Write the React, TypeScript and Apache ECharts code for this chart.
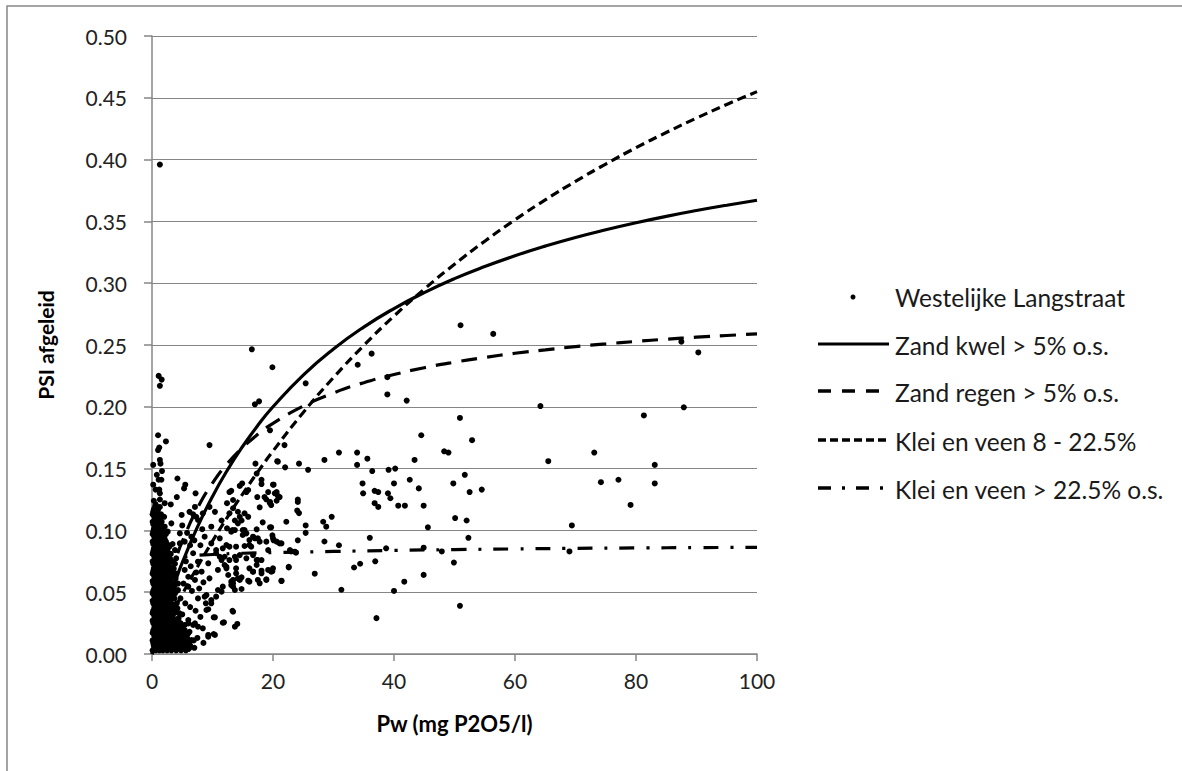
import React, { useEffect, useRef } from "react";
import * as echarts from "echarts";

// ---- Axis definitions ----
const xMin = 0;
const xMax = 100;
const xInterval = 20;
const yMin = 0;
const yMax = 0.5;
const yInterval = 0.05;
const xAxisTitle = "Pw (mg P2O5/l)";
const yAxisTitle = "PSI afgeleid";

// ---- Series names ----
const seriesNames = [
  "Westelijke Langstraat",
  "Zand kwel > 5% o.s.",
  "Zand regen > 5% o.s.",
  "Klei en veen 8 - 22.5%",
  "Klei en veen > 22.5% o.s.",
];

// ---- Scatter: Westelijke Langstraat (Pw, PSI) ----
const pointsTopLeft: [number, number][] = [
  [1.3, 0.396], [16.5, 0.2465], [1.1, 0.225], [1.6, 0.222], [1.3, 0.217], [1.0, 0.177], [2.3, 0.172],
  [1.2, 0.167], [1.0, 0.165], [9.5, 0.169], [0.2, 0.153], [1.3, 0.157], [1.4, 0.154], [1.65, 0.148],
  [1.1, 0.141], [1.55, 0.141], [4.2, 0.142], [5.5, 0.137], [5.3, 0.134], [7.2, 0.13], [4.1, 0.127],
  [1.3, 0.13], [1.3, 0.125], [2.1, 0.122], [3.1, 0.121],
];

const pointsMiddle: [number, number][] = [
  [19.9, 0.232], [25.4, 0.219], [34.0, 0.234], [36.3, 0.243], [38.9, 0.224], [38.9, 0.21], [42.1, 0.205],
  [51.0, 0.266], [56.4, 0.259], [19.5, 0.181], [21.9, 0.169], [20.7, 0.156], [22.0, 0.151], [24.3, 0.154],
  [25.8, 0.149], [28.5, 0.157], [30.9, 0.163], [33.9, 0.163], [33.9, 0.153], [35.6, 0.158], [36.4, 0.148],
  [39.1, 0.149], [40.2, 0.15], [43.4, 0.157], [44.5, 0.177], [48.3, 0.164], [49.0, 0.163], [50.9, 0.191],
  [52.9, 0.173], [20.1, 0.137], [20.3, 0.13], [20.8, 0.128], [20.6, 0.124], [19.5, 0.122], [22.2, 0.107],
  [24.1, 0.125], [24.0, 0.116], [24.3, 0.114], [25.4, 0.104], [25.4, 0.098], [28.3, 0.107], [28.8, 0.103],
  [29.7, 0.111], [28.5, 0.091], [24.1, 0.092], [19.5, 0.1025], [19.9, 0.096], [20.1, 0.092], [21.1, 0.0895],
  [23.0, 0.083], [23.8, 0.082], [30.9, 0.088], [36.0, 0.094], [34.8, 0.138], [34.9, 0.13], [36.8, 0.132],
  [37.4, 0.131], [36.8, 0.122], [37.4, 0.119], [39.0, 0.13], [39.4, 0.126], [40.0, 0.138], [40.7, 0.12],
  [41.8, 0.12], [42.6, 0.141], [44.1, 0.134], [44.9, 0.12], [45.6, 0.1025], [49.8, 0.138], [51.7, 0.145],
  [52.5, 0.131], [54.5, 0.133], [50.1, 0.11], [52.0, 0.108], [52.3, 0.094], [44.9, 0.086], [47.9, 0.083],
  [38.7, 0.0855], [33.4, 0.07], [34.4, 0.073], [36.9, 0.075], [26.9, 0.065], [21.4, 0.059], [22.6, 0.07],
  [19.9, 0.067], [31.3, 0.052], [40.0, 0.051], [41.7, 0.0585], [44.9, 0.064], [49.9, 0.074], [50.9, 0.039],
  [37.1, 0.029],
];

const pointsRight: [number, number][] = [
  [64.2, 0.2006], [65.5, 0.156], [69.4, 0.104], [69.0, 0.083], [73.1, 0.163], [74.2, 0.139], [77.1, 0.141],
  [79.1, 0.1206], [81.3, 0.193], [83.1, 0.153], [83.1, 0.138], [87.9, 0.1996], [87.5, 0.2527], [90.3, 0.244],
];

const pointsCloud: [number, number][] = [
  [17.0, 0.202], [17.7, 0.2044], [17.1, 0.154], [6.2, 0.115], [6.8, 0.113], [7.3, 0.111], [10.4, 0.115],
  [12.4, 0.122], [12.8, 0.131], [13.4, 0.1246], [13.1, 0.132], [15.9, 0.1327], [14.5, 0.136], [14.9, 0.138],
  [18.1, 0.1375], [19.2, 0.131], [17.4, 0.127], [18.9, 0.125], [12.4, 0.1017], [13.3, 0.1003], [14.2, 0.1057],
  [15.0, 0.1003], [15.6, 0.0976], [17.3, 0.1009], [17.8, 0.0909], [18.9, 0.0909], [16.1, 0.0922], [19.2, 0.0841],
  [12.8, 0.0868], [10.6, 0.0841], [11.2, 0.0787], [12.0, 0.0787], [12.8, 0.076], [13.9, 0.076], [14.5, 0.08],
  [15.6, 0.0774], [17.5, 0.076], [12.3, 0.0693], [13.9, 0.0693], [16.1, 0.0693], [17.3, 0.072], [20.0, 0.0693],
  [12.6, 0.0639], [13.9, 0.0653], [14.5, 0.0599], [16.7, 0.0666], [18.1, 0.0674], [19.2, 0.068], [16.1, 0.0585],
  [17.5, 0.0599], [18.9, 0.0599], [14.8, 0.0526], [13.7, 0.0518], [13.1, 0.0585], [13.4, 0.0545], [10.9, 0.0518],
  [9.8, 0.041], [9.3, 0.0362], [10.2, 0.0297], [13.3, 0.035], [14.1, 0.0243], [13.7, 0.0221], [11.7, 0.0253],
  [9.3, 0.0154], [10.2, 0.0162], [8.4, 0.0208], [7.6, 0.0221], [6.8, 0.0235], [6.0, 0.0248], [5.4, 0.0194],
  [6.2, 0.018], [9.0, 0.0477], [20.8, 0.1556], [17.3, 0.146], [18.1, 0.141], [20.0, 0.137], [20.6, 0.131],
  [21.1, 0.127], [15.6, 0.131], [18.6, 0.127], [17.8, 0.1187], [19.5, 0.123], [19.7, 0.1205], [24.1, 0.123],
  [18.3, 0.1065], [19.7, 0.1025], [15.9, 0.111], [14.5, 0.111], [14.8, 0.108], [13.7, 0.108], [15.3, 0.1138],
  [14.2, 0.1151], [13.4, 0.1179], [12.8, 0.1138], [13.1, 0.099], [13.7, 0.1003], [15.3, 0.1003], [15.0, 0.0963],
  [16.7, 0.0949], [17.0, 0.0936], [17.5, 0.0936], [20.0, 0.0936], [20.6, 0.0909], [21.4, 0.0895], [15.3, 0.0874],
  [16.1, 0.0882], [16.4, 0.0868], [13.9, 0.0868], [12.3, 0.0882], [11.7, 0.0855], [22.8, 0.0841], [23.6, 0.0828],
  [13.7, 0.0787], [16.7, 0.08], [17.3, 0.076], [18.1, 0.076], [11.5, 0.076], [12.3, 0.0706], [12.0, 0.072],
  [22.6, 0.0706], [16.7, 0.0666], [18.1, 0.0653], [19.7, 0.0666], [13.4, 0.0599], [14.2, 0.0612], [14.8, 0.062],
  [15.9, 0.0593], [13.4, 0.0572], [13.1, 0.0558], [11.7, 0.0545], [17.8, 0.0572], [18.9, 0.0604], [21.4, 0.0593],
  [13.4, 0.0342], [11.9, 0.0256],
  [4.9, 0.1125], [3.2, 0.1057], [4.6, 0.0976], [4.6, 0.0895], [5.4, 0.0909], [3.8, 0.0841], [4.0, 0.0774],
  [5.4, 0.068], [6.0, 0.0625], [7.1, 0.0599], [4.3, 0.0518], [6.0, 0.0545], [7.6, 0.045], [8.7, 0.0464],
  [9.0, 0.0356], [8.9, 0.041], [10.4, 0.0297], [7.1, 0.0248], [9.3, 0.014], [10.4, 0.0154], [6.0, 0.0275],
  [5.4, 0.0235], [4.9, 0.0194], [6.0, 0.0167], [6.5, 0.0113], [11.5, 0.108], [9.8, 0.103], [8.7, 0.0949],
  [9.8, 0.0895], [11.2, 0.0936], [10.6, 0.0815], [9.3, 0.0734], [10.9, 0.068], [9.5, 0.0612], [8.2, 0.0666],
  [7.6, 0.0747], [6.8, 0.0815], [6.5, 0.0949], [7.6, 0.1084], [7.1, 0.119], [9.5, 0.119], [8.4, 0.1138],
  [9.8, 0.0437], [10.6, 0.0464], [11.5, 0.0504],
  [5.0, 0.104], [5.8, 0.098], [6.3, 0.088], [7.0, 0.092], [8.0, 0.088], [8.3, 0.101], [5.6, 0.075],
  [6.4, 0.071], [7.3, 0.066], [8.5, 0.058], [5.2, 0.057], [6.6, 0.051], [7.8, 0.053], [4.7, 0.045],
  [5.5, 0.041], [6.3, 0.038], [7.2, 0.035], [5.0, 0.032], [8.0, 0.03], [4.5, 0.012], [5.3, 0.008],
  [6.0, 0.004], [7.5, 0.013], [8.5, 0.009],
];

// dense core near the origin, read row by row
const pointsCore: [number, number][] = [
  [0.1, 0.003], [0.6, 0.003], [1.2, 0.003], [1.8, 0.003], [2.5, 0.003], [3.2, 0.003], [4.0, 0.003], [4.8, 0.003], [5.6, 0.003],
  [0.3, 0.007], [0.9, 0.007], [1.5, 0.007], [2.2, 0.007], [2.9, 0.007], [3.6, 0.007], [4.4, 0.007], [5.3, 0.007], [6.3, 0.007],
  [0.1, 0.011], [0.7, 0.011], [1.3, 0.011], [2.0, 0.011], [2.7, 0.011], [3.4, 0.011], [4.2, 0.011], [5.0, 0.011], [5.9, 0.011], [6.9, 0.011],
  [0.4, 0.015], [1.0, 0.015], [1.7, 0.015], [2.4, 0.015], [3.1, 0.015], [3.9, 0.015], [4.7, 0.015], [5.5, 0.015],
  [0.2, 0.019], [0.8, 0.019], [1.5, 0.019], [2.2, 0.019], [2.9, 0.019], [3.7, 0.019], [4.5, 0.019],
  [0.5, 0.023], [1.1, 0.023], [1.8, 0.023], [2.6, 0.023], [3.4, 0.023], [4.3, 0.023],
  [0.1, 0.027], [0.7, 0.027], [1.4, 0.027], [2.1, 0.027], [2.9, 0.027], [3.8, 0.027],
  [0.4, 0.031], [1.0, 0.031], [1.7, 0.031], [2.5, 0.031], [3.3, 0.031],
  [0.2, 0.035], [0.8, 0.035], [1.5, 0.035], [2.3, 0.035], [3.1, 0.035], [4.0, 0.035],
  [0.5, 0.039], [1.1, 0.039], [1.9, 0.039], [2.7, 0.039], [3.5, 0.039],
  [0.1, 0.043], [0.7, 0.043], [1.4, 0.043], [2.2, 0.043], [3.0, 0.043],
  [0.4, 0.047], [1.0, 0.047], [1.7, 0.047], [2.5, 0.047], [3.4, 0.047],
  [0.2, 0.051], [0.8, 0.051], [1.5, 0.051], [2.3, 0.051], [3.2, 0.051], [4.1, 0.051],
  [0.5, 0.055], [1.1, 0.055], [1.9, 0.055], [2.8, 0.055], [3.7, 0.055],
  [0.1, 0.059], [0.7, 0.059], [1.4, 0.059], [2.2, 0.059], [3.1, 0.059],
  [0.4, 0.063], [1.0, 0.063], [1.8, 0.063], [2.7, 0.063], [3.6, 0.063],
  [0.2, 0.067], [0.8, 0.067], [1.5, 0.067], [2.4, 0.067], [3.3, 0.067],
  [0.5, 0.071], [1.2, 0.071], [2.0, 0.071], [2.9, 0.071],
  [0.1, 0.075], [0.7, 0.075], [1.5, 0.075], [2.4, 0.075], [3.4, 0.075],
  [0.4, 0.079], [1.0, 0.079], [1.8, 0.079], [2.7, 0.079],
  [0.2, 0.083], [0.9, 0.083], [1.6, 0.083], [2.5, 0.083],
  [0.5, 0.087], [1.2, 0.087], [2.0, 0.087], [2.9, 0.087],
  [0.1, 0.091], [0.8, 0.091], [1.5, 0.091], [2.3, 0.091],
  [0.4, 0.095], [1.1, 0.095], [1.9, 0.095],
  [0.2, 0.099], [0.9, 0.099], [1.7, 0.099], [2.6, 0.099],
  [0.5, 0.103], [1.2, 0.103], [2.1, 0.103],
  [0.1, 0.107], [0.8, 0.107], [1.6, 0.107],
  [0.4, 0.111], [1.1, 0.111], [2.0, 0.111],
  [0.2, 0.115], [0.9, 0.115],
  [0.5, 0.119], [1.3, 0.119],
  [0.3, 0.124], [0.6, 0.133], [1.2, 0.133], [0.2, 0.137], [0.8, 0.145],
];

// second pass over the dense core, between the rows above
const pointsCoreFill: [number, number][] = [
  [0.4, 0.005], [1.0, 0.005], [1.6, 0.005], [2.3, 0.005], [3.0, 0.005], [3.8, 0.005], [4.6, 0.005], [5.4, 0.005], [6.2, 0.005], [7.0, 0.005],
  [0.2, 0.009], [0.8, 0.009], [1.4, 0.009], [2.1, 0.009], [2.8, 0.009], [3.5, 0.009], [4.3, 0.009], [5.1, 0.009], [6.0, 0.009],
  [0.5, 0.013], [1.1, 0.013], [1.8, 0.013], [2.5, 0.013], [3.2, 0.013], [4.0, 0.013], [4.9, 0.013], [5.8, 0.013],
  [0.1, 0.017], [0.7, 0.017], [1.3, 0.017], [2.0, 0.017], [2.7, 0.017], [3.5, 0.017], [4.3, 0.017], [5.1, 0.017],
  [0.4, 0.021], [1.0, 0.021], [1.7, 0.021], [2.4, 0.021], [3.2, 0.021], [4.0, 0.021], [4.9, 0.021],
  [0.2, 0.025], [0.8, 0.025], [1.5, 0.025], [2.3, 0.025], [3.1, 0.025], [3.9, 0.025], [4.7, 0.025],
  [0.5, 0.029], [1.1, 0.029], [1.8, 0.029], [2.6, 0.029], [3.5, 0.029], [4.4, 0.029],
  [0.1, 0.033], [0.7, 0.033], [1.4, 0.033], [2.1, 0.033], [2.9, 0.033], [3.7, 0.033], [4.5, 0.033],
  [0.4, 0.037], [1.0, 0.037], [1.7, 0.037], [2.5, 0.037], [3.3, 0.037], [4.2, 0.037],
  [0.2, 0.041], [0.9, 0.041], [1.6, 0.041], [2.4, 0.041], [3.2, 0.041], [4.1, 0.041],
  [0.5, 0.045], [1.2, 0.045], [1.9, 0.045], [2.8, 0.045], [3.7, 0.045],
  [0.1, 0.049], [0.7, 0.049], [1.3, 0.049], [2.0, 0.049], [2.9, 0.049], [3.8, 0.049],
  [0.4, 0.053], [1.0, 0.053], [1.7, 0.053], [2.6, 0.053], [3.5, 0.053],
  [0.2, 0.057], [0.9, 0.057], [1.6, 0.057], [2.5, 0.057], [3.4, 0.057], [4.3, 0.057],
  [0.5, 0.061], [1.2, 0.061], [2.0, 0.061], [2.9, 0.061], [3.9, 0.061],
  [0.1, 0.065], [0.6, 0.065], [1.3, 0.065], [2.1, 0.065], [3.0, 0.065], [4.0, 0.065],
  [0.3, 0.069], [1.0, 0.069], [1.7, 0.069], [2.6, 0.069], [3.6, 0.069],
  [0.2, 0.073], [0.9, 0.073], [1.8, 0.073], [2.7, 0.073], [3.8, 0.073],
  [0.5, 0.077], [1.2, 0.077], [2.1, 0.077], [3.0, 0.077],
  [0.1, 0.081], [0.7, 0.081], [1.4, 0.081], [2.2, 0.081], [3.1, 0.081],
  [0.3, 0.085], [1.0, 0.085], [1.7, 0.085], [2.6, 0.085],
  [0.2, 0.089], [0.9, 0.089], [1.6, 0.089], [2.5, 0.089], [3.4, 0.089],
  [0.5, 0.093], [1.3, 0.093], [2.1, 0.093],
  [0.1, 0.097], [0.7, 0.097], [1.4, 0.097], [2.3, 0.097],
  [0.3, 0.101], [1.0, 0.101], [1.8, 0.101],
  [0.2, 0.105], [0.9, 0.105], [1.5, 0.105],
  [0.5, 0.109], [1.3, 0.109],
  [0.1, 0.113], [0.7, 0.113], [1.5, 0.113],
  [0.3, 0.117], [1.0, 0.117],
  [0.6, 0.121],
];

// ---- Fitted curves (Pw, PSI) ----
const zandKwel: [number, number][] = [
  [0, 0], [1, 0.0169], [2, 0.0327], [3, 0.0473], [4, 0.061], [5, 0.0739], [7.5, 0.1026], [10, 0.1275],
  [12.5, 0.1491], [15, 0.1681], [17.5, 0.185], [20, 0.2], [25, 0.2257], [30, 0.2468], [35, 0.2645],
  [40, 0.2795], [45, 0.2924], [50, 0.3037], [55, 0.3135], [60, 0.3222], [65, 0.33], [70, 0.337],
  [75, 0.3432], [80, 0.3489], [85, 0.3541], [90, 0.3588], [95, 0.3631], [100, 0.3671],
];

const zandRegen: [number, number][] = [
  [0, 0], [1, 0.0244], [2, 0.045], [3, 0.0626], [4, 0.0778], [5, 0.0911], [7.5, 0.1179], [10, 0.1383],
  [12.5, 0.1543], [15, 0.1671], [17.5, 0.1777], [20, 0.1866], [25, 0.2006], [30, 0.2112], [35, 0.2195],
  [40, 0.2261], [45, 0.2316], [50, 0.2361], [55, 0.2399], [60, 0.2433], [65, 0.2461], [70, 0.2487],
  [75, 0.2509], [80, 0.2529], [85, 0.2547], [90, 0.2563], [95, 0.2577], [100, 0.259],
];

const kleiVeen8: [number, number][] = [
  [0, 0], [2.5, 0.0249], [5, 0.0483], [7.5, 0.0704], [10, 0.0913], [12.5, 0.111], [15, 0.1296],
  [17.5, 0.1474], [20, 0.1642], [25, 0.1954], [30, 0.2237], [35, 0.2496], [40, 0.2734], [45, 0.2952],
  [50, 0.3153], [55, 0.334], [60, 0.3513], [65, 0.3674], [70, 0.3824], [75, 0.3964], [80, 0.4096],
  [85, 0.4219], [90, 0.4336], [95, 0.4446], [100, 0.455],
];

const kleiVeen22: [number, number][] = [
  [0.3, 0.035], [1, 0.06], [2, 0.07], [3.5, 0.076], [6, 0.079], [10, 0.0805], [15, 0.0815], [20, 0.082],
  [30, 0.083], [40, 0.0838], [50, 0.0845], [60, 0.085], [70, 0.0855], [80, 0.0858], [90, 0.0861],
  [100, 0.0863],
];

const FONT = "Lato, 'Liberation Sans', sans-serif";
const GRAY = "#868686";

export default function App() {
  const ref = useRef<HTMLDivElement>(null);

  useEffect(() => {
    if (!ref.current) return;
    const chart = echarts.init(ref.current, undefined, { renderer: "svg" });

    const scatterData = [
      ...pointsCore,
      ...pointsCoreFill,
      ...pointsCloud,
      ...pointsTopLeft,
      ...pointsMiddle,
      ...pointsRight,
    ];

    const lineStyles: { width: number; type: any }[] = [
      { width: 3.2, type: "solid" },
      { width: 3.2, type: [16, 10] },
      { width: 3.2, type: [9, 5] },
      { width: 3.2, type: [15, 12, 3, 12] },
    ];
    const legendStyles: { width: number; type: any }[] = [
      { width: 3, type: "solid" },
      { width: 3.5, type: [13, 11] },
      { width: 3.5, type: [8, 4] },
      { width: 3.5, type: [13, 11, 3, 11] },
    ];
    const curves = [zandKwel, zandRegen, kleiVeen8, kleiVeen22];

    const legendRows = [296, 344, 391, 440, 488];
    const legendLineX1 = 818;
    const legendLineX2 = 889;
    const legendTextX = 895;

    const legendGraphics: any[] = [];
    legendGraphics.push({
      type: "circle",
      shape: { cx: 853, cy: legendRows[0] + 1, r: 2.5 },
      style: { fill: "#000" },
      silent: true,
    });
    for (let i = 1; i < 5; i++) {
      const ls = legendStyles[i - 1];
      legendGraphics.push({
        type: "line",
        shape: { x1: legendLineX1, y1: legendRows[i], x2: legendLineX2, y2: legendRows[i] },
        style: {
          stroke: "#000",
          lineWidth: ls.width,
          lineDash: ls.type === "solid" ? null : ls.type,
        },
        silent: true,
      });
    }
    for (let i = 0; i < 5; i++) {
      legendGraphics.push({
        type: "text",
        x: legendTextX,
        y: legendRows[i] + 1,
        style: {
          text: seriesNames[i],
          fill: "#1a1a1a",
          font: `24.5px ${FONT}`,
          verticalAlign: "middle",
        },
        silent: true,
      });
    }

    chart.setOption({
      animation: false,
      backgroundColor: "#fff",
      grid: { left: 152, top: 36, width: 605, height: 618, containLabel: false },
      xAxis: {
        type: "value",
        min: xMin,
        max: xMax,
        interval: xInterval,
        name: xAxisTitle,
        nameLocation: "middle",
        nameGap: 58,
        nameTextStyle: { fontFamily: FONT, fontWeight: "bold", fontSize: 22, color: "#000" },
        axisLine: { show: true, lineStyle: { color: GRAY, width: 1.5 } },
        axisTick: { show: true, inside: false, length: 7, lineStyle: { color: GRAY, width: 1.5 } },
        axisLabel: { fontFamily: FONT, fontSize: 21, color: "#222", margin: 16 },
        splitLine: { show: false },
      },
      yAxis: {
        type: "value",
        min: yMin,
        max: yMax,
        interval: yInterval,
        name: yAxisTitle,
        nameLocation: "middle",
        nameGap: 96,
        nameRotate: 90,
        nameTextStyle: { fontFamily: FONT, fontWeight: "bold", fontSize: 21, color: "#000" },
        axisLine: { show: true, lineStyle: { color: GRAY, width: 1.5 } },
        axisTick: { show: true, inside: false, length: 8, lineStyle: { color: GRAY, width: 1.5 } },
        axisLabel: {
          fontFamily: FONT,
          fontSize: 21,
          color: "#222",
          margin: 25,
          formatter: (v: number) => v.toFixed(2),
        },
        splitLine: { show: true, lineStyle: { color: GRAY, width: 1.2 } },
      },
      series: [
        {
          name: seriesNames[0],
          type: "scatter",
          data: scatterData,
          symbol: "circle",
          symbolSize: 6,
          itemStyle: { color: "#000", opacity: 1 },
          z: 2,
          silent: true,
        },
        ...curves.map((c, i) => ({
          name: seriesNames[i + 1],
          type: "line",
          data: c,
          smooth: 0.5,
          showSymbol: false,
          symbol: "none",
          lineStyle: { color: "#000", width: lineStyles[i].width, type: lineStyles[i].type },
          z: 3,
          silent: true,
        })),
      ],
      graphic: [
        {
          type: "rect",
          shape: { x: 7, y: 6, width: 1200, height: 800 },
          style: { fill: "none", stroke: GRAY, lineWidth: 1.5 },
          silent: true,
          z: -1,
        },
        ...legendGraphics,
      ],
    });

    return () => chart.dispose();
  }, []);

  return (
    <div
      ref={ref}
      style={{ position: "absolute", left: 0, top: 0, width: 1182, height: 771, background: "#fff" }}
    />
  );
}
